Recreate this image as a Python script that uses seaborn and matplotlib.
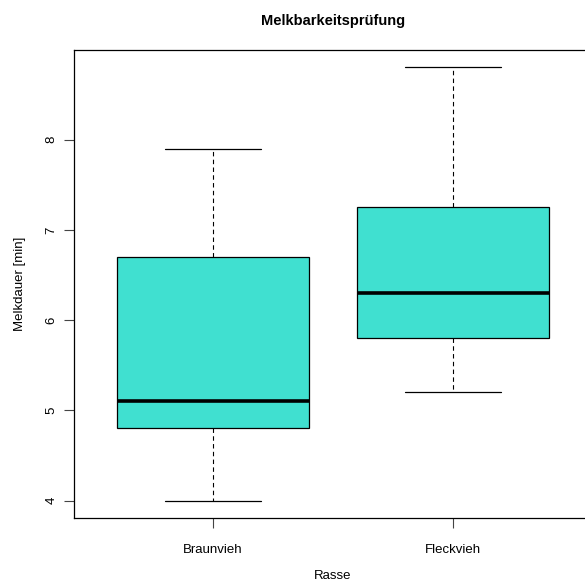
import matplotlib
matplotlib.use("Agg")
import matplotlib.pyplot as plt
import seaborn as sns
import pandas as pd

# five-number summaries (min, Q1, median, Q3, max)
rassen = ["Braunvieh", "Fleckvieh"]
braunvieh = [4.0, 4.8, 5.1, 6.7, 7.9]
fleckvieh = [5.2, 5.8, 6.3, 7.25, 8.8]
y_ticks = [4, 5, 6, 7, 8]

df = pd.DataFrame({
    "Rasse": [rassen[0]] * len(braunvieh) + [rassen[1]] * len(fleckvieh),
    "Melkdauer": braunvieh + fleckvieh,
})

sns.set_style("white", {"text.color": "black", "axes.labelcolor": "black",
                        "xtick.color": "black", "ytick.color": "black"})
plt.rcParams["font.family"] = ["Liberation Sans", "DejaVu Sans"]

fig = plt.figure(figsize=(5.85, 5.86), dpi=100)
ax = fig.add_axes([0.1265, 0.116, 0.885, 0.7986])

sns.boxplot(data=df, x="Rasse", y="Melkdauer", order=rassen, ax=ax,
            color="#40E0D0", saturation=1, width=0.8, whis=1.5,
            linecolor="black", linewidth=0.9,
            boxprops=dict(edgecolor="black", linewidth=0.9),
            medianprops=dict(color="black", linewidth=2.6),
            whiskerprops=dict(color="black", linestyle=(0, (4, 3)), linewidth=0.8),
            capprops=dict(color="black", linewidth=0.9),
            showfliers=False)

# R style caps: half the box width
ends = (braunvieh[0], braunvieh[-1], fleckvieh[0], fleckvieh[-1])
for line in ax.lines:
    xd = list(line.get_xdata())
    yd = list(line.get_ydata())
    if len(xd) == 2 and yd[0] == yd[1] and yd[0] in ends and xd[0] != xd[1]:
        c = (xd[0] + xd[1]) / 2
        line.set_xdata([c - 0.2, c + 0.2])

ax.set_xlim(-0.58, 1.58)
ax.set_ylim(3.808, 8.992)
ax.set_yticks(y_ticks)
ax.set_yticklabels([str(t) for t in y_ticks], rotation=90, va="center", fontsize=9.5)
ax.tick_params(axis="y", length=7, width=0.8, pad=5, left=True, color="#444444")
ax.tick_params(axis="x", length=7, width=0.8, pad=12, bottom=True, color="#444444", labelsize=9.5)
for s in ax.spines.values():
    s.set_color("black")
    s.set_linewidth(0.9)
ax.spines["right"].set_visible(False)

ax.set_xlabel("Rasse", fontsize=9.5, labelpad=10)
ax.set_ylabel("Melkdauer [min]", fontsize=9.5, labelpad=14)
ax.set_title("Melkbarkeitsprüfung", fontsize=10.5, fontweight="bold", pad=18)

fig.savefig("out.png", dpi=100)
